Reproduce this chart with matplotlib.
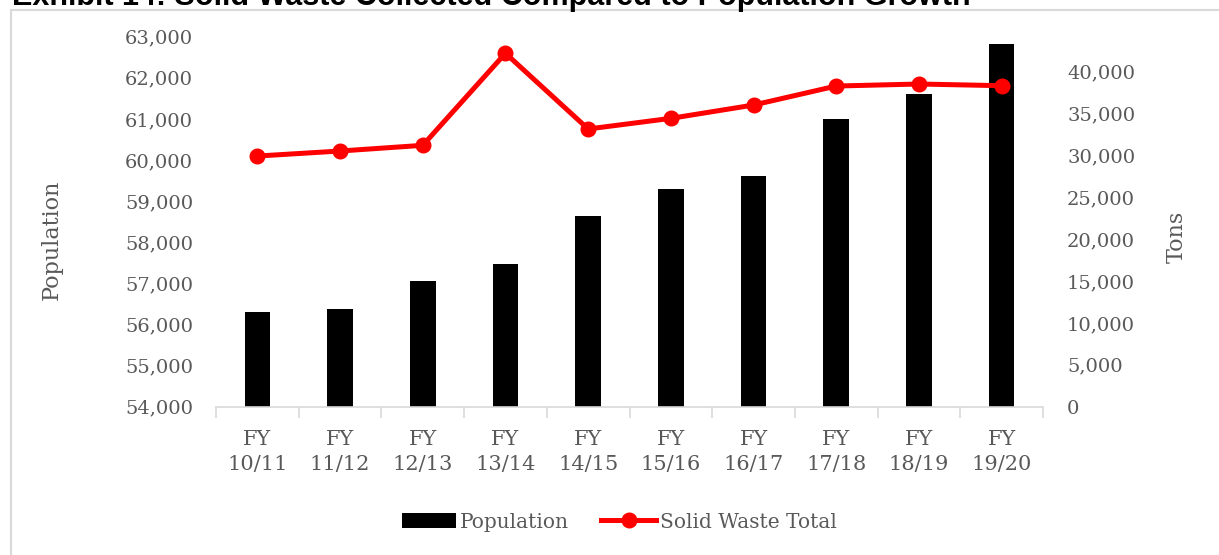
import matplotlib.pyplot as plt
from matplotlib.patches import Rectangle
from matplotlib.ticker import FuncFormatter, FixedLocator
import numpy as np

# data
years = ['10/11', '11/12', '12/13', '13/14', '14/15',
         '15/16', '16/17', '17/18', '18/19', '19/20']
population = [56310, 56380, 57050, 57470, 58650,
              59300, 59610, 61000, 61610, 62820]
solid_waste = [29930, 30530, 31210, 42200, 33160,
               34430, 36020, 38290, 38530, 38330]

TEXT = '#595959'
GRID = '#d9d9d9'
FONT = 'DejaVu Serif'

plt.rcParams['font.family'] = FONT

fig = plt.figure(figsize=(12.19, 5.55), dpi=100)
ax = fig.add_axes([216 / 1219, 1 - 406.7 / 555,
                   (1043 - 216) / 1219, (406.7 - 36.7) / 555])
ax2 = ax.twinx()

x = np.arange(len(years))
ax.bar(x, population, width=0.31, color='black', label='Population', zorder=2)
ax2.plot(x, solid_waste, color='#ff0000', linewidth=3.6, marker='o',
         markersize=10.5, label='Solid Waste Total', zorder=3)

ax.set_xlim(-0.5, len(years) - 0.5)
ax.set_ylim(54000, 63000)
ax2.set_ylim(0, 44180)

ax.set_yticks(np.arange(54000, 63001, 1000))
ax2.set_yticks(np.arange(0, 40001, 5000))
fmt = FuncFormatter(lambda v, p: f'{int(v):,}')
ax.yaxis.set_major_formatter(fmt)
ax2.yaxis.set_major_formatter(fmt)

# category labels centred, tick marks on the category boundaries
ax.set_xticks(x)
ax.set_xticklabels(['FY\n' + y for y in years], linespacing=1.45)
ax.xaxis.set_minor_locator(FixedLocator(np.arange(-0.5, len(years), 1.0)))
ax.tick_params(axis='x', which='major', length=0, pad=16.5,
               labelsize=15, labelcolor=TEXT)
ax.tick_params(axis='x', which='minor', length=8, width=1.2, color=GRID)
ax.tick_params(axis='y', length=0, pad=16.5, labelsize=14, labelcolor=TEXT)
ax2.tick_params(axis='y', length=0, pad=17.3, labelsize=14, labelcolor=TEXT)

for a in (ax, ax2):
    for s in ('top', 'left', 'right'):
        a.spines[s].set_visible(False)
    a.spines['bottom'].set_color(GRID)
    a.spines['bottom'].set_linewidth(1.2)
ax2.spines['bottom'].set_visible(False)

fig.text(52 / 1219, 1 - 240 / 555, 'Population', rotation=90,
         ha='center', va='center', fontsize=16, color=TEXT)
fig.text(1177 / 1219, 1 - 237 / 555, 'Tons', rotation=90,
         ha='center', va='center', fontsize=16, color=TEXT)

h1, l1 = ax.get_legend_handles_labels()
h2, l2 = ax2.get_legend_handles_labels()
fig.legend(h1 + h2, l1 + l2, loc='center', bbox_to_anchor=(0.508, 1 - 522 / 555),
           ncol=2, frameon=False, fontsize=14.5, labelcolor=TEXT,
           handlelength=2.7, handletextpad=0.2, columnspacing=1.6)

# chart border and the clipped exhibit title
fig.patches.append(Rectangle((11 / 1219, -0.05), 1.1, 1.05 - 9.5 / 555,
                             transform=fig.transFigure, fill=False,
                             edgecolor=GRID, linewidth=1.5))
fig.text(12 / 1219, 1 - 4.5 / 555,
         'Exhibit 14: Solid Waste Collected Compared to Population Growth',
         family='Liberation Sans', fontweight='bold', fontsize=22,
         color='black', ha='left', va='baseline')

plt.savefig('out.png', dpi=100)
plt.close()
